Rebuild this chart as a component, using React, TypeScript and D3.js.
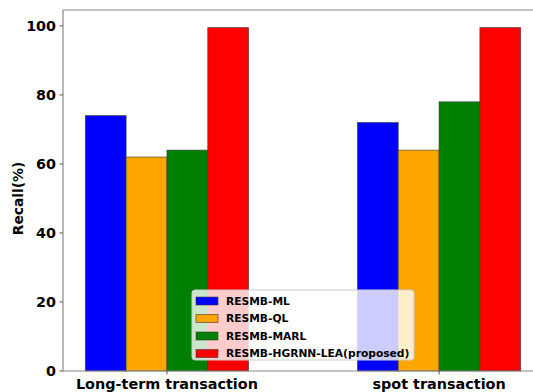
import React from "react";
import * as d3 from "d3";

const categories = ["Long-term transaction", "spot transaction"];
const seriesNames = ["RESMB-ML", "RESMB-QL", "RESMB-MARL", "RESMB-HGRNN-LEA(proposed)"];
const seriesColors = ["#0000ff", "#ffa500", "#008000", "#ff0000"];
const seriesValues = [
  [74, 72],
  [62, 64],
  [64, 78],
  [99.5, 99.5],
];
const yTicks = [0, 20, 40, 60, 80, 100];

const W = 533, H = 392;
const font = "DejaVu Sans, sans-serif";

export default function App() {
  const x = d3.scaleLinear().domain([-0.382, 1.382]).range([63, 543]);
  const y = d3.scaleLinear().domain([0, 104.6]).range([371, 10]);
  const bw = 0.15;
  const legendX = 192, legendY = 290;
  return (
    <svg width={W} height={H} style={{ position: "absolute", left: 0, top: 0, background: "#fff" }}>
      {seriesValues.map((vals, si) =>
        vals.map((v, ci) => {
          const x0 = x(ci - 2 * bw + si * bw);
          const x1 = x(ci - 2 * bw + (si + 1) * bw);
          return (
            <rect key={`${si}-${ci}`} x={x0} y={y(v)} width={x1 - x0} height={y(0) - y(v)}
              fill={seriesColors[si]} stroke="#333" strokeWidth={0.8} strokeOpacity={0.7} />
          );
        })
      )}
      {/* spines */}
      <line x1={63} x2={63} y1={10} y2={371} stroke="#888" strokeWidth={1.2} />
      <line x1={63} x2={543} y1={10} y2={10} stroke="#888" strokeWidth={1.2} />
      <line x1={63} x2={543} y1={371} y2={371} stroke="#888" strokeWidth={1.2} />
      {yTicks.map((t) => (
        <g key={t}>
          <line x1={59.5} x2={63} y1={y(t)} y2={y(t)} stroke="#555" strokeWidth={1} />
          <text x={56} y={y(t)} dy="0.36em" textAnchor="end" fontFamily={font} fontWeight="bold" fontSize={14.3}>{t}</text>
        </g>
      ))}
      {categories.map((c, ci) => (
        <g key={c}>
          <line x1={x(ci)} x2={x(ci)} y1={371} y2={374.5} stroke="#555" strokeWidth={1} />
          <text x={x(ci)} y={389} textAnchor="middle" fontFamily={font} fontWeight="bold" fontSize={14.4}>{c}</text>
        </g>
      ))}
      <text transform={`translate(23,${y(50)}) rotate(-90)`} textAnchor="middle" fontFamily={font} fontWeight="bold" fontSize={13.8}>Recall(%)</text>
      {/* legend */}
      <rect x={legendX} y={legendY} width={222} height={70} rx={3} fill="#fff" fillOpacity={0.8} stroke="#ccc" strokeWidth={1} />
      {seriesNames.map((n, i) => (
        <g key={n}>
          <rect x={legendX + 4} y={legendY + 7 + i * 17.5} width={22} height={8} fill={seriesColors[i]} stroke="#333" strokeWidth={0.8} strokeOpacity={0.7} />
          <text x={legendX + 34} y={legendY + 11 + i * 17.5} dy="0.36em" fontFamily={font} fontWeight="bold" fontSize={10.7}>{n}</text>
        </g>
      ))}
    </svg>
  );
}
